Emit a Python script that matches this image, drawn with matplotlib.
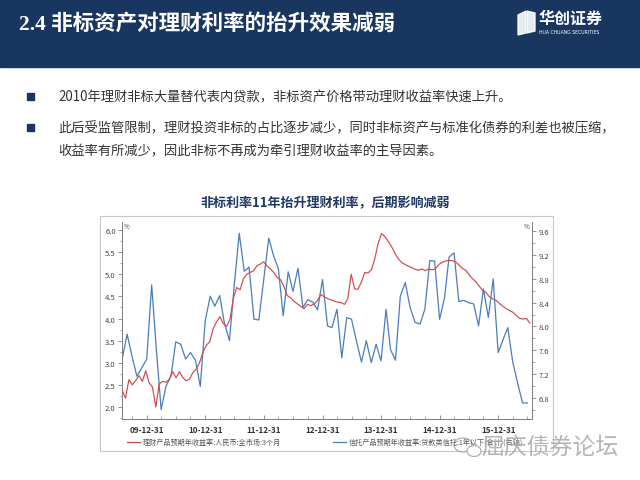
import pandas as pd
import matplotlib
matplotlib.use("Agg")
import matplotlib.pyplot as plt
import matplotlib.dates as mdates
from matplotlib.patches import Rectangle, Ellipse, Polygon
from matplotlib.lines import Line2D
from matplotlib.ticker import MultipleLocator, FormatStrFormatter

plt.rcParams['font.family'] = ['Noto Sans CJK SC', 'DejaVu Sans']

# ---- dane ----
# 理财产品预期年收益率 (lewa oś), próbki co 3 tygodnie od 2009-07-31
licai_start = '2009-07-31'
licai = [2.37, 2.20, 2.62, 2.50, 2.60, 2.71, 2.58, 2.82, 2.55, 2.45,
         2.00, 2.52, 2.58, 2.56, 2.63, 2.80, 2.66, 2.80, 2.67, 2.59,
         2.63, 2.78, 2.86, 3.01, 3.24, 3.40, 3.47, 3.77, 3.92, 4.04,
         3.89, 3.82, 3.98, 4.45, 4.70, 4.65, 4.90, 5.00, 5.04, 5.08,
         5.19, 5.23, 5.28, 5.19, 5.12, 5.04, 4.93, 4.88, 4.73, 4.52,
         4.47, 4.39, 4.33, 4.28, 4.22, 4.32, 4.29, 4.33, 4.41, 4.54,
         4.49, 4.45, 4.42, 4.39, 4.37, 4.36, 4.32, 4.45, 5.00, 4.67,
         4.66, 4.82, 5.04, 5.03, 5.10, 5.35, 5.70, 5.92, 5.85, 5.74,
         5.62, 5.47, 5.35, 5.26, 5.22, 5.18, 5.15, 5.11, 5.09, 5.12,
         5.08, 5.12, 5.10, 5.12, 5.22, 5.27, 5.30, 5.31, 5.31, 5.28,
         5.21, 5.13, 5.09, 4.99, 4.90, 4.83, 4.73, 4.64, 4.59, 4.49,
         4.44, 4.41, 4.34, 4.28, 4.22, 4.18, 4.14, 4.07, 4.00, 3.99,
         4.00, 3.90]

# 信托产品预期年收益率 (prawa oś), dane miesięczne od 2009-07
xintuo_start = '2009-07-31'
xintuo = [7.45, 7.87, 7.50, 7.16, 7.30, 7.45, 8.70, 7.65, 6.60, 6.99,
          7.16, 7.74, 7.70, 7.45, 7.56, 7.43, 6.99, 8.10, 8.51, 8.34,
          8.52, 8.05, 7.76, 8.70, 9.57, 8.93, 9.00, 8.12, 8.11, 8.80,
          9.49, 9.20, 8.97, 8.18, 8.92, 8.59, 8.98, 8.32, 8.45, 8.41,
          8.28, 8.79, 8.01, 7.98, 8.29, 7.47, 8.15, 8.12, 7.75, 7.40,
          7.76, 7.39, 7.70, 7.42, 8.29, 7.61, 7.43, 8.51, 8.74, 8.32,
          8.07, 8.04, 8.29, 9.11, 9.10, 8.12, 8.49, 9.17, 9.24, 8.42,
          8.44, 8.40, 8.38, 8.01, 8.63, 8.15, 8.80, 7.56, 7.78, 7.98,
          7.40, 7.05, 6.71, 6.71]

year_ticks = ['2009-12-31', '2010-12-31', '2011-12-31', '2012-12-31',
              '2013-12-31', '2014-12-31', '2015-12-31']

title = '2.4 非标资产对理财利率的抬升效果减弱'
bullets = ['2010年理财非标大量替代表内贷款，非标资产价格带动理财收益率快速上升。',
           '此后受监管限制，理财投资非标的占比逐步减少，同时非标资产与标准化债券的利差也被压缩，',
           '收益率有所减少，因此非标不再成为牵引理财收益率的主导因素。']
chart_title = '非标利率11年抬升理财利率，后期影响减弱'
label_red = '理财产品预期年收益率:人民币:全市场:3个月'
label_blue = '信托产品预期年收益率:贷款类信托:1年以下(合计)(右轴)'

NAVY = '#18365f'
RED = '#d0494a'
BLUE = '#4a7dbb'

W, H = 640, 481


def px(x, y):
    return x / W, 1 - y / H


fig = plt.figure(figsize=(6.4, 4.81), dpi=100)

# ---- nagłówek ----
fig.add_artist(Rectangle((0, 1 - 68 / H), 1, 68 / H, transform=fig.transFigure,
                         color=NAVY, zorder=0))
fig.text(*px(19, 24), title, color='white', fontsize=15.5, fontweight='bold',
         family=['Liberation Serif', 'Noto Sans CJK SC'], va='center', ha='left')

# logo
for pts in [[(518, 16), (526, 12), (526, 34), (518, 36)],
            [(527, 12), (535, 14), (535, 32), (527, 34)]]:
    fig.add_artist(Polygon([px(a, b) for a, b in pts], closed=True,
                           transform=fig.transFigure, color='white', alpha=0.9))
fig.text(*px(539, 19), '华创证券', color='white', fontsize=11.5, fontweight='bold',
         va='center', ha='left')
fig.text(*px(539, 32), 'HUA CHUANG SECURITIES', color='white', fontsize=3.3,
         va='center', ha='left', family='DejaVu Sans')

# ---- punkty tekstu ----
for (y, txt, mark) in [(97, bullets[0], True), (128, bullets[1], True), (151, bullets[2], False)]:
    if mark:
        fig.add_artist(Rectangle(px(27, y + 3.5), 7 / W, 7 / H, transform=fig.transFigure,
                                 color=NAVY))
    fig.text(*px(58, y), txt, color='#333333', fontsize=9.55, va='center', ha='left')

fig.text(*px(325, 203), chart_title, color='#1f3864', fontsize=9.4, fontweight='bold',
         va='center', ha='center')

# ramka wykresu
fig.add_artist(Rectangle(px(100, 452), 453 / W, 235 / H, transform=fig.transFigure,
                         fill=False, edgecolor='#c8c8c8', lw=0.8))

# ---- wykres ----
ax = fig.add_axes([122 / W, 1 - 420 / H, 410 / W, 197 / H])
ax2 = ax.twinx()

d_red = pd.date_range(licai_start, periods=len(licai), freq='21D')
d_blue = pd.date_range(xintuo_start, periods=len(xintuo), freq='ME')

ax.plot(d_red, licai, color=RED, lw=0.85, zorder=3)
ax2.plot(d_blue, xintuo, color=BLUE, lw=0.9)
ax.set_zorder(ax2.get_zorder() + 1)
ax.patch.set_visible(False)

ax.set_xlim(pd.Timestamp('2009-07-30'), pd.Timestamp('2016-07-29'))
ax.set_ylim(1.73, 6.18)
ax2.set_ylim(6.44, 9.76)

ax.set_xticks(pd.to_datetime(year_ticks))
ax.xaxis.set_major_formatter(mdates.DateFormatter('%y-%m-%d'))
ax.xaxis.set_minor_locator(mdates.MonthLocator(bymonth=[3, 6, 9], bymonthday=-1))
ax.yaxis.set_major_locator(MultipleLocator(0.5))
ax.yaxis.set_minor_locator(MultipleLocator(0.25))
ax.yaxis.set_major_formatter(FormatStrFormatter('%.1f'))
ax2.yaxis.set_major_locator(MultipleLocator(0.4))
ax2.yaxis.set_minor_locator(MultipleLocator(0.2))
ax2.yaxis.set_major_formatter(FormatStrFormatter('%.1f'))

for a in (ax, ax2):
    a.spines['top'].set_visible(False)
    for s in ('left', 'right', 'bottom'):
        a.spines[s].set_color('#808080')
        a.spines[s].set_linewidth(0.7)
    a.tick_params(axis='y', which='major', direction='out', length=3, width=0.6,
                  color='#808080', labelsize=5.5, labelcolor='#444444', pad=1.5)
    a.tick_params(axis='y', which='minor', direction='out', length=1.8, width=0.5,
                  color='#808080')

ax.tick_params(axis='x', which='major', direction='in', length=3, width=0.6,
               color='#808080', labelsize=5.8, labelcolor='#333333', pad=4)
ax.tick_params(axis='x', which='minor', direction='in', length=2, width=0.5,
               color='#808080')
for lab in ax.get_xticklabels():
    lab.set_fontweight('bold')

ax.text(0.005, 1.0, '%', transform=ax.transAxes, fontsize=4.5, color='#444444',
        va='top', ha='left')
ax2.text(0.995, 1.0, '%', transform=ax2.transAxes, fontsize=4.5, color='#444444',
         va='top', ha='right')

# ---- legenda ----
fig.add_artist(Line2D([127 / W, 140 / W], [1 - 443 / H] * 2, transform=fig.transFigure,
                      color=RED, lw=0.9))
fig.text(*px(143, 443), label_red, fontsize=5.1, color='#555555', va='center', ha='left')
fig.add_artist(Line2D([333 / W, 346 / W], [1 - 443 / H] * 2, transform=fig.transFigure,
                      color=BLUE, lw=0.9))
fig.text(*px(349, 443), label_blue, fontsize=5.1, color='#555555', va='center', ha='left')

# ---- znak wodny ----
fig.add_artist(Ellipse(px(463, 446), 18 / W, 14 / H, transform=fig.transFigure,
                       fill=False, edgecolor='#b0b0b0', lw=0.9))
fig.add_artist(Ellipse(px(474, 452), 14 / W, 11 / H, transform=fig.transFigure,
                       fill=True, facecolor='white', edgecolor='#b0b0b0', lw=0.9))
fig.text(*px(481, 447), '屈庆债券论坛', fontsize=16.5, color='#a8a8a8', alpha=0.85,
         va='center', ha='left')

fig.savefig('out.png', dpi=100)
